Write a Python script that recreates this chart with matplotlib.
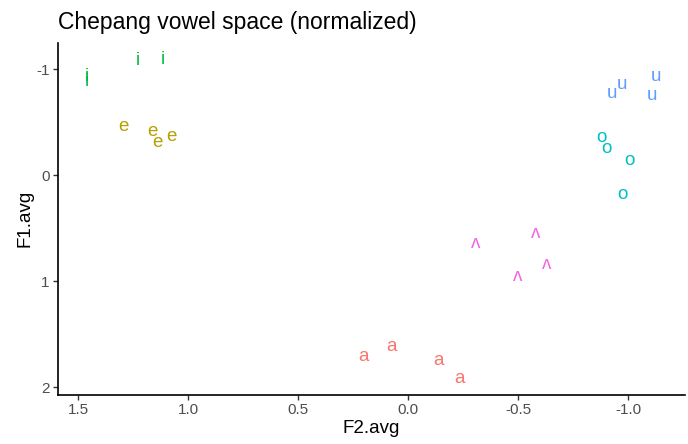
import matplotlib.pyplot as plt
import numpy as np

plt.rcParams['font.family'] = ['Liberation Sans', 'DejaVu Sans']

# vowel tokens (normalized formant averages)
vowels = ['a', 'a', 'a', 'a',
          'e', 'e', 'e', 'e',
          'i', 'i', 'i', 'i',
          'o', 'o', 'o', 'o',
          'u', 'u', 'u', 'u',
          'ʌ', 'ʌ', 'ʌ', 'ʌ']
f2_avg = [0.203, 0.074, -0.138, -0.233,
          1.294, 1.162, 1.140, 1.074,
          1.460, 1.458, 1.229, 1.114,
          -0.880, -0.903, -1.006, -0.974,
          -0.926, -0.971, -1.108, -1.127,
          -0.309, -0.580, -0.499, -0.630]
f1_avg = [1.706, 1.618, 1.744, 1.915,
          -0.457, -0.416, -0.307, -0.369,
          -0.932, -0.885, -1.083, -1.096,
          -0.354, -0.254, -0.141, 0.185,
          -0.767, -0.854, -0.751, -0.927,
          0.641, 0.545, 0.955, 0.842]

palette = {'a': '#F8766D', 'e': '#B79F00', 'i': '#00BA38',
           'o': '#00BFC4', 'u': '#619CFF', 'ʌ': '#F564E3'}

fig = plt.figure(figsize=(6.88, 4.44), dpi=100)
ax = fig.add_axes([58/688, 1 - 394.5/444, (685-58)/688, (394.5-43)/444])

for v, x, y in zip(vowels, f2_avg, f1_avg):
    ax.text(x, y, v, color=palette[v], fontsize=13.5, ha='center', va='center')

ax.set_xlim(1.591, -1.259)
ax.set_ylim(2.066, -1.247)
ax.set_xticks([1.5, 1.0, 0.5, 0.0, -0.5, -1.0])
ax.set_xticklabels(['1.5', '1.0', '0.5', '0.0', '-0.5', '-1.0'])
ax.set_yticks([-1, 0, 1, 2])
ax.set_yticklabels(['-1', '0', '1', '2'])

for s in ['top', 'right']:
    ax.spines[s].set_visible(False)
for s in ['left', 'bottom']:
    ax.spines[s].set_linewidth(1.2)
    ax.spines[s].set_color('black')
ax.tick_params(length=3.5, width=1, color='#333333', labelcolor='#4D4D4D',
               labelsize=11, pad=2.5)

ax.set_xlabel('F2.avg', fontsize=13.5, labelpad=2)
ax.set_ylabel('F1.avg', fontsize=13.5, labelpad=2)
fig.text(58/688, 1 - 28.5/444, 'Chepang vowel space (normalized)', fontsize=16.5,
         ha='left', va='baseline')

fig.savefig('out.png', dpi=100)
